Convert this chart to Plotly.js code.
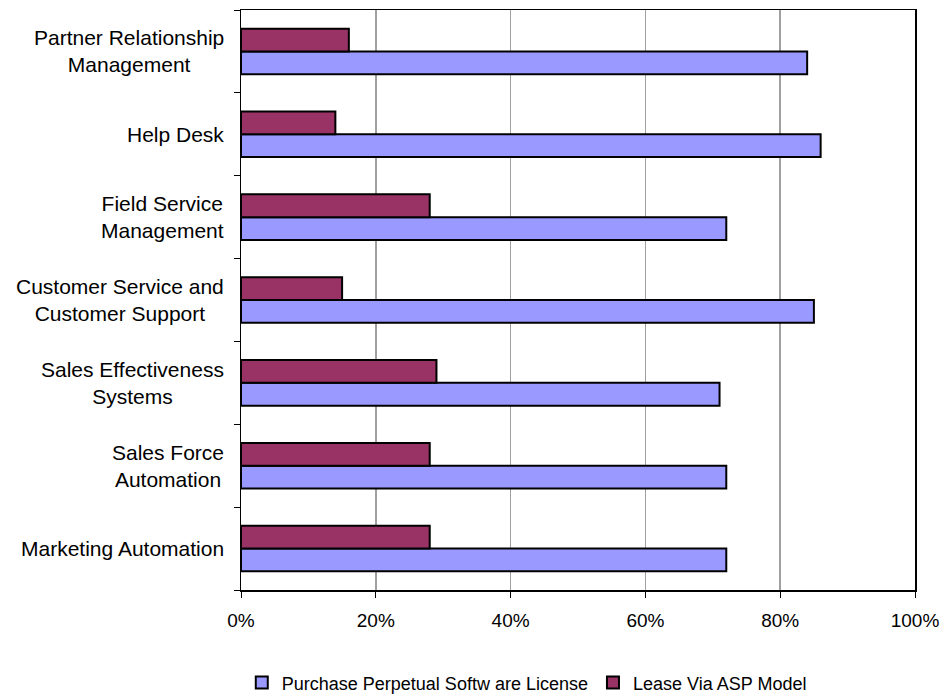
<!DOCTYPE html>
<html>
<head>
<meta charset="utf-8">
<script src="https://cdn.plot.ly/plotly-3.0.1.min.js"></script>
<style>html,body{margin:0;padding:0;background:#fff;}#chart{width:948px;height:696px;}</style>
</head>
<body>
<div id="chart"></div>
<script>
const categories = [
  "Marketing Automation",
  "Sales Force<br>Automation",
  "Sales Effectiveness<br>Systems",
  "Customer Service and<br>Customer Support",
  "Field Service<br>Management",
  "Help Desk",
  "Partner Relationship<br>Management"
];
const purchaseValues = [0.72, 0.72, 0.71, 0.85, 0.72, 0.86, 0.84];
const leaseValues    = [0.28, 0.28, 0.29, 0.15, 0.28, 0.14, 0.16];
const seriesNames = ["Purchase Perpetual Softw are License", "Lease Via ASP Model"];
const xTickVals = [0, 0.2, 0.4, 0.6, 0.8, 1.0];

const traces = [
  {
    type: "bar", orientation: "h", name: seriesNames[0],
    y: categories, x: purchaseValues,
    marker: {color: "#9999FF", line: {color: "#000000", width: 2}},
    hoverinfo: "x+y"
  },
  {
    type: "bar", orientation: "h", name: seriesNames[1],
    y: categories, x: leaseValues,
    marker: {color: "#993366", line: {color: "#000000", width: 2}},
    hoverinfo: "x+y"
  }
];

// category labels, centred multi-line like the original
const labelAnnotations = categories.map(c => ({
  text: c, x: 0, xref: "paper", y: c, yref: "y",
  xanchor: "right", yanchor: "middle", xshift: -15, align: "center",
  showarrow: false,
  font: {family: "Liberation Sans, Arial, sans-serif", size: 21, color: "#000000"}
}));

const layout = {
  width: 948, height: 696,
  margin: {l: 241, r: 33, t: 10, b: 106, autoexpand: false},
  paper_bgcolor: "#ffffff", plot_bgcolor: "#ffffff",
  font: {family: "Liberation Sans, Arial, sans-serif", size: 19, color: "#000000"},
  barmode: "group",
  bargap: 0.45,
  bargroupgap: 0,
  showlegend: true,
  legend: {
    orientation: "h", x: 0.424, xanchor: "center", y: -0.16, yanchor: "middle",
    font: {family: "Liberation Sans, Arial, sans-serif", size: 18}, traceorder: "normal"
  },
  annotations: labelAnnotations,
  xaxis: {
    range: [0, 1], tickvals: xTickVals, tickformat: ".0%",
    tickfont: {family: "Liberation Sans, Arial, sans-serif", size: 19},
    showgrid: true, gridcolor: "#a0a0a0", gridwidth: 1.5,
    zeroline: false, showline: true, linecolor: "#000000", linewidth: 1.5,
    mirror: true, ticks: "outside", ticklen: 6, tickcolor: "#000000",
    ticklabelstandoff: 7, fixedrange: true
  },
  yaxis: {
    type: "category", categoryorder: "array", categoryarray: categories,
    showticklabels: false,
    showgrid: false, zeroline: false, showline: true, linecolor: "#000000",
    linewidth: 1.5, mirror: true, ticks: "outside", ticklen: 6,
    tickcolor: "#000000", tickson: "boundaries",
    fixedrange: true
  }
};

Plotly.newPlot("chart", traces, layout, {displayModeBar: false, staticPlot: true});
</script>
</body>
</html>
